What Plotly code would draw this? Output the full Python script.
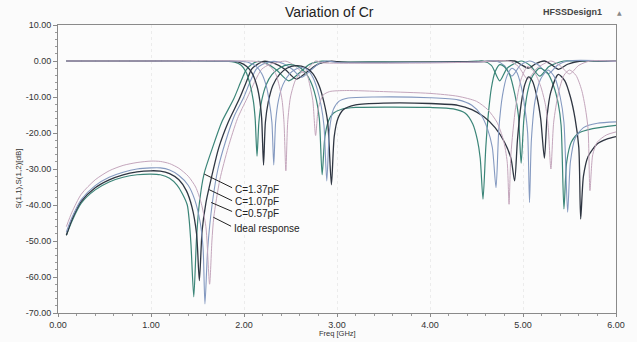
import plotly.graph_objects as go

# ---------------- data ----------------
case_names = ["C=1.37pF", "C=1.07pF", "C=0.57pF", "Ideal response"]
case_colors = ["#3b8578", "#2f3642", "#8499c0", "#c4a6bc"]
case_widths = [1.2, 1.3, 1.1, 1.0]

# S(1,1) per case
s11_f_137 = [0.09, 0.15, 0.25, 0.4, 0.55, 0.7, 0.85, 1.0, 1.1, 1.2, 1.28, 1.34, 1.39, 1.41, 1.43, 1.46, 1.49, 1.52, 1.57, 1.66, 1.76, 1.89, 1.97, 2.02, 2.08, 2.14, 2.25, 2.35, 2.48, 2.6, 2.7, 2.84, 3.0, 3.5, 4.3, 4.5, 4.57, 4.66, 4.75, 4.83, 4.98, 5.08, 5.18, 5.28, 5.44, 5.6, 6.0]
s11_v_137 = [-48.4, -44.5, -39.5, -35.8, -33.6, -32.3, -31.6, -31.4, -31.6, -32.6, -34.5, -37.0, -40.0, -44.0, -51.0, -65.5, -49.0, -39.5, -31.4, -24.2, -17.0, -10.5, -5.5, -2.6, -1.0, -0.15, -0.8, -2.5, -5.5, -3.2, -1.0, -0.05, -0.25, -0.25, -0.25, -0.05, 0.0, -1.2, -5.5, -2.0, 0.0, -1.3, -4.2, -1.5, 0.0, -0.05, -0.1]

s11_f_107 = [0.09, 0.15, 0.25, 0.4, 0.55, 0.7, 0.85, 1.0, 1.1, 1.2, 1.3, 1.38, 1.44, 1.49, 1.52, 1.55, 1.59, 1.625, 1.73, 1.83, 1.95, 2.03, 2.08, 2.14, 2.21, 2.32, 2.44, 2.56, 2.68, 2.8, 2.94, 3.05, 4.0, 4.5, 4.91, 4.98, 5.06, 5.14, 5.23, 5.3, 5.38, 5.48, 5.62, 6.0]
s11_v_107 = [-48.4, -44.0, -39.0, -35.2, -33.0, -31.6, -30.8, -30.5, -30.6, -31.3, -33.0, -36.0, -40.5, -48.0, -61.0, -47.0, -39.5, -35.2, -24.0, -17.0, -10.5, -5.5, -2.3, -1.0, -0.1, -0.6, -2.3, -5.0, -3.0, -0.8, -0.02, -0.3, -0.3, -0.2, 0.0, -1.0, -2.0, -0.7, 0.0, -0.9, -2.3, -0.9, 0.0, -0.05]

s11_f_057 = [0.09, 0.15, 0.25, 0.4, 0.55, 0.7, 0.85, 1.0, 1.1, 1.2, 1.3, 1.4, 1.47, 1.53, 1.56, 1.58, 1.61, 1.66, 1.72, 1.8, 1.9, 1.99, 2.07, 2.13, 2.2, 2.32, 2.42, 2.52, 2.62, 2.72, 2.81, 2.89, 3.0, 4.0, 4.5, 4.71, 4.8, 4.88, 4.97, 5.07, 5.17, 5.27, 5.37, 5.48, 6.0]
s11_v_057 = [-47.5, -43.5, -38.5, -34.6, -32.3, -30.9, -30.0, -29.7, -29.7, -30.3, -31.8, -34.5, -38.5, -45.0, -52.0, -67.5, -52.0, -39.3, -30.0, -22.5, -15.0, -10.5, -5.5, -2.3, -0.9, -0.1, -0.7, -2.3, -4.5, -2.5, -0.6, 0.0, -0.4, -0.4, -0.3, 0.0, -1.3, -4.2, -1.2, 0.0, -1.2, -3.6, -1.2, 0.0, -0.1]

s11_f_ideal = [0.09, 0.15, 0.25, 0.4, 0.55, 0.7, 0.85, 1.0, 1.1, 1.2, 1.3, 1.4, 1.48, 1.54, 1.59, 1.63, 1.655, 1.675, 1.74, 1.83, 1.93, 2.03, 2.12, 2.19, 2.28, 2.45, 2.54, 2.64, 2.72, 2.77, 2.85, 3.0, 4.0, 4.5, 4.85, 4.95, 5.05, 5.15, 5.3, 5.4, 5.5, 5.6, 5.72, 6.0]
s11_v_ideal = [-46.0, -42.0, -37.0, -33.0, -30.5, -29.0, -28.2, -27.8, -27.9, -28.5, -29.8, -32.0, -35.0, -39.5, -46.0, -62.0, -50.0, -43.4, -33.0, -24.0, -16.0, -10.5, -5.5, -2.3, -0.9, -0.05, -1.2, -3.2, -1.2, 0.0, -0.5, -0.6, -0.55, -0.3, 0.0, -1.5, -5.0, -2.0, 0.0, -1.3, -3.6, -1.2, 0.0, -0.05]

# S(1,2) per case
s21_f_137 = [0.09, 1.0, 1.8, 1.9, 1.97, 2.02, 2.06, 2.1, 2.12, 2.14, 2.16, 2.19, 2.24, 2.3, 2.38, 2.48, 2.58, 2.66, 2.73, 2.78, 2.81, 2.84, 2.87, 2.91, 2.96, 3.05, 3.2, 3.6, 4.0, 4.25, 4.38, 4.46, 4.51, 4.54, 4.57, 4.6, 4.63, 4.66, 4.7, 4.75, 4.8, 4.86, 4.91, 4.95, 4.98, 5.01, 5.05, 5.1, 5.18, 5.26, 5.33, 5.38, 5.41, 5.44, 5.47, 5.52, 5.6, 5.75, 6.0]
s21_v_137 = [0.0, 0.0, -0.05, -0.3, -1.2, -3.0, -6.0, -11.0, -16.0, -26.4, -17.0, -11.0, -6.5, -3.8, -2.0, -1.0, -1.5, -3.2, -6.5, -11.0, -16.0, -31.6, -21.0, -16.5, -14.5, -13.4, -12.9, -12.8, -12.9, -13.3, -14.5, -17.5, -22.0, -27.0, -38.4, -24.0, -14.0, -7.5, -3.0, -1.0, -1.6, -4.0, -9.0, -15.0, -28.4, -16.0, -8.5, -4.3, -2.0, -3.2, -7.0, -12.0, -18.0, -41.1, -28.0, -22.5, -20.0, -18.8, -17.9]

s21_f_107 = [0.09, 1.0, 1.85, 1.95, 2.03, 2.09, 2.14, 2.17, 2.19, 2.21, 2.23, 2.26, 2.31, 2.38, 2.46, 2.56, 2.66, 2.74, 2.81, 2.86, 2.9, 2.94, 2.97, 3.01, 3.07, 3.2, 3.5, 4.0, 4.3, 4.45, 4.58, 4.7, 4.8, 4.87, 4.91, 4.94, 4.98, 5.02, 5.06, 5.1, 5.15, 5.19, 5.23, 5.26, 5.3, 5.38, 5.45, 5.51, 5.56, 5.6, 5.62, 5.65, 5.7, 5.8, 5.9, 6.0]
s21_v_107 = [0.0, 0.0, -0.05, -0.4, -1.5, -3.5, -7.0, -11.0, -16.0, -28.9, -17.0, -11.5, -6.8, -3.8, -2.0, -1.3, -1.8, -3.5, -7.0, -11.5, -17.0, -34.4, -21.0, -16.0, -13.5, -12.2, -11.7, -11.8, -12.3, -13.5, -15.5, -18.5, -22.5, -27.0, -33.3, -22.0, -12.0, -6.5, -4.4, -5.5, -10.0, -16.0, -27.0, -15.0, -8.5, -3.7, -5.5, -10.0, -16.0, -24.0, -43.9, -32.0, -26.5, -23.0, -21.7, -21.0]

s21_f_057 = [0.09, 1.0, 1.95, 2.05, 2.13, 2.19, 2.24, 2.27, 2.3, 2.32, 2.34, 2.37, 2.42, 2.49, 2.56, 2.62, 2.68, 2.74, 2.79, 2.83, 2.86, 2.89, 2.92, 2.96, 3.02, 3.12, 3.4, 4.0, 4.3, 4.45, 4.55, 4.62, 4.67, 4.71, 4.74, 4.78, 4.83, 4.88, 4.93, 4.98, 5.02, 5.05, 5.07, 5.09, 5.13, 5.19, 5.27, 5.34, 5.4, 5.44, 5.48, 5.51, 5.56, 5.65, 5.8, 6.0]
s21_v_057 = [0.0, 0.0, -0.05, -0.4, -1.5, -3.5, -7.0, -11.0, -17.0, -28.9, -17.0, -11.0, -6.5, -3.6, -2.2, -1.8, -2.4, -4.5, -8.0, -12.5, -18.0, -33.3, -19.0, -13.5, -11.2, -10.3, -10.0, -10.2, -10.8, -12.3, -15.0, -19.0, -24.0, -35.2, -19.0, -9.5, -4.0, -2.0, -3.0, -7.0, -13.0, -20.0, -39.3, -22.0, -11.0, -5.0, -2.5, -4.5, -10.0, -17.0, -42.0, -28.0, -21.5, -18.5, -17.3, -16.9]

s21_f_ideal = [0.09, 1.0, 2.1, 2.2, 2.28, 2.34, 2.38, 2.41, 2.43, 2.45, 2.47, 2.5, 2.55, 2.6, 2.64, 2.68, 2.71, 2.74, 2.77, 2.8, 2.85, 2.92, 3.1, 3.5, 4.0, 4.3, 4.5, 4.62, 4.72, 4.79, 4.83, 4.85, 4.87, 4.92, 4.98, 5.05, 5.12, 5.19, 5.24, 5.27, 5.3, 5.33, 5.38, 5.44, 5.5, 5.57, 5.63, 5.67, 5.7, 5.72, 5.75, 5.8, 5.9, 6.0]
s21_v_ideal = [0.0, 0.0, -0.05, -0.4, -1.5, -3.5, -7.0, -11.0, -17.0, -30.5, -17.0, -10.0, -5.5, -3.5, -3.0, -4.0, -7.0, -11.0, -20.7, -13.0, -9.5, -8.5, -8.2, -8.5, -9.0, -9.8, -11.2, -13.5, -17.0, -22.0, -28.0, -39.8, -26.0, -13.0, -5.0, -1.5, -3.0, -7.0, -12.0, -18.0, -30.0, -17.0, -9.0, -4.0, -2.5, -4.0, -8.0, -13.0, -19.0, -36.0, -26.0, -22.5, -20.5, -19.7]

s11_sets = [(s11_f_137, s11_v_137), (s11_f_107, s11_v_107), (s11_f_057, s11_v_057), (s11_f_ideal, s11_v_ideal)]
s21_sets = [(s21_f_137, s21_v_137), (s21_f_107, s21_v_107), (s21_f_057, s21_v_057), (s21_f_ideal, s21_v_ideal)]

x_tick_vals = [0, 1, 2, 3, 4, 5, 6]
x_tick_text = ["0.00", "1.00", "2.00", "3.00", "4.00", "5.00", "6.00"]
y_tick_vals = [10, 0, -10, -20, -30, -40, -50, -60, -70]
y_tick_text = ["10.00", "0.00", "-10.00", "-20.00", "-30.00", "-40.00", "-50.00", "-60.00", "-70.00"]

# label callouts: (text position, pointer end on curve)
label_text_pos = [(1.882, -35.75), (1.882, -39.0), (1.882, -42.3), (1.872, -46.4)]
label_tail = [(1.872, -35.2), (1.872, -38.8), (1.872, -41.8), (1.861, -45.9)]
label_head = [(1.572, -31.4), (1.626, -35.75), (1.647, -39.3), (1.67, -43.4)]

# ---------------- figure ----------------
fig = go.Figure()
for i in range(4):
    f, v = s11_sets[i]
    fig.add_trace(go.Scatter(x=f, y=v, mode="lines", name=case_names[i] + " S11",
                             line=dict(color=case_colors[i], width=case_widths[i], shape="spline", smoothing=0.7),
                             showlegend=False, hoverinfo="skip"))
for i in range(4):
    f, v = s21_sets[i]
    fig.add_trace(go.Scatter(x=f, y=v, mode="lines", name=case_names[i] + " S21",
                             line=dict(color=case_colors[i], width=case_widths[i], shape="spline", smoothing=0.7),
                             showlegend=False, hoverinfo="skip"))

for i in range(4):
    fig.add_shape(type="line", xref="x", yref="y",
                  x0=label_tail[i][0], y0=label_tail[i][1], x1=label_head[i][0], y1=label_head[i][1],
                  line=dict(color="#222222", width=1))
    fig.add_annotation(x=label_text_pos[i][0], y=label_text_pos[i][1], text=case_names[i],
                       showarrow=False, xanchor="left", yanchor="middle",
                       font=dict(family="Liberation Sans, Arial, sans-serif", size=10, color="#222222"))

fig.add_annotation(x=0.5, y=1.0, xref="paper", yref="paper", yshift=13, xshift=-8,
                   text="Variation of Cr", showarrow=False, yanchor="middle",
                   font=dict(family="Liberation Sans, Arial, sans-serif", size=14, color="#222222"))
fig.add_annotation(x=1.0, y=1.0, xref="paper", yref="paper", yshift=13, xshift=-12,
                   text="<b>HFSSDesign1</b>", showarrow=False, xanchor="right", yanchor="middle",
                   font=dict(family="Liberation Sans, Arial, sans-serif", size=9, color="#444444"))
fig.add_annotation(x=1.0, y=1.0, xref="paper", yref="paper", yshift=13, xshift=8,
                   text="▲", showarrow=False, xanchor="right", yanchor="middle",
                   font=dict(family="DejaVu Sans, sans-serif", size=6, color="#888888"))
fig.add_annotation(x=3.0, y=0.0, xref="x", yref="paper", yshift=-20,
                   text="Freq [GHz]", showarrow=False, yanchor="middle",
                   font=dict(family="Liberation Sans, Arial, sans-serif", size=7.5, color="#333333"))
fig.add_annotation(x=0.0, y=0.5, xref="paper", yref="paper", xshift=-47, yshift=-10,
                   text="S(1,1),S(1,2)[dB]", showarrow=False, textangle=-90,
                   font=dict(family="Liberation Sans, Arial, sans-serif", size=8, color="#333333"))

axis_font = dict(family="Liberation Sans, Arial, sans-serif", size=9, color="#333333")
fig.update_xaxes(range=[0, 6], tickvals=x_tick_vals, ticktext=x_tick_text, tickfont=axis_font,
                 showline=True, linecolor="#8a8a8a", linewidth=1, mirror=True,
                 ticks="outside", ticklen=3, tickcolor="#8a8a8a",
                 minor=dict(dtick=0.2, ticks="outside", ticklen=2, tickcolor="#9a9a9a", showgrid=False),
                 showgrid=True, gridcolor="#ececec", griddash="dot", gridwidth=1, zeroline=False)
fig.update_yaxes(range=[-70, 10], tickvals=y_tick_vals, ticktext=y_tick_text, tickfont=axis_font,
                 showline=True, linecolor="#8a8a8a", linewidth=1, mirror=True,
                 ticks="outside", ticklen=4, tickcolor="#8a8a8a",
                 minor=dict(dtick=2, ticks="outside", ticklen=2, tickcolor="#9a9a9a", showgrid=False),
                 showgrid=False, zeroline=False)

fig.update_layout(width=637, height=342, margin=dict(l=58, r=18, t=25, b=25),
                  paper_bgcolor="#fbfbfb", plot_bgcolor="#fcfcfc", showlegend=False)

fig.write_html("out.html")
